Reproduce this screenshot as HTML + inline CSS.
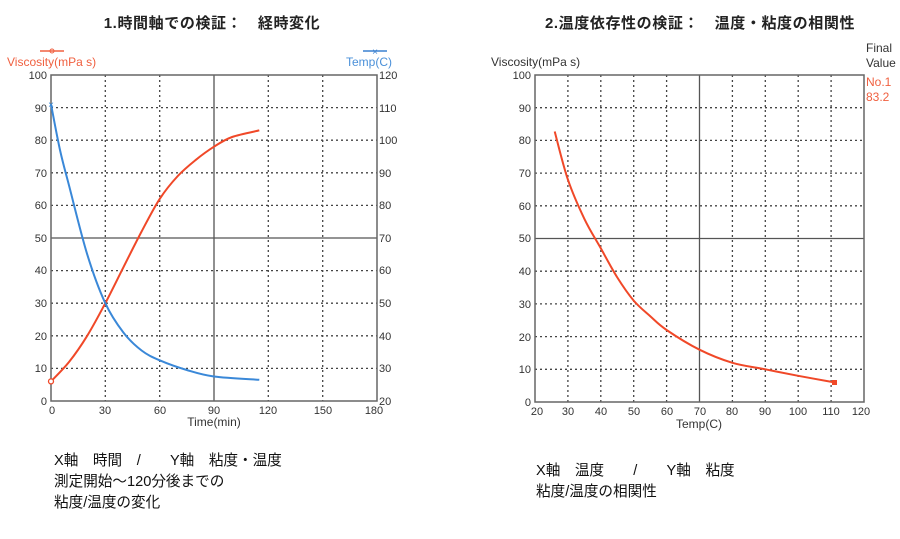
<!DOCTYPE html>
<html><head><meta charset="utf-8"><style>
body{margin:0;background:#fff;width:900px;height:534px;overflow:hidden}
svg text{font-family:"Liberation Sans","Noto Sans CJK JP",sans-serif}
</style></head><body>
<svg id="s" width="900" height="534" xmlns="http://www.w3.org/2000/svg">
<g font-size="15" font-weight="bold" fill="#222" text-anchor="middle" letter-spacing="0.6">
<text x="212" y="28">1.時間軸での検証：　経時変化</text>
<text x="700" y="28">2.温度依存性の検証：　温度・粘度の相関性</text>
</g>
<g stroke="#444" stroke-width="1.3" stroke-dasharray="2,3" fill="none">
<line x1="105.3" y1="75" x2="105.3" y2="401"/><line x1="159.7" y1="75" x2="159.7" y2="401"/>
<line x1="268.3" y1="75" x2="268.3" y2="401"/><line x1="322.7" y1="75" x2="322.7" y2="401"/>
<line x1="51" y1="107.6" x2="377" y2="107.6"/><line x1="51" y1="140.2" x2="377" y2="140.2"/>
<line x1="51" y1="172.8" x2="377" y2="172.8"/><line x1="51" y1="205.4" x2="377" y2="205.4"/>
<line x1="51" y1="270.6" x2="377" y2="270.6"/><line x1="51" y1="303.2" x2="377" y2="303.2"/>
<line x1="51" y1="335.8" x2="377" y2="335.8"/><line x1="51" y1="368.4" x2="377" y2="368.4"/>
</g>
<g stroke="#555" stroke-width="1.3" fill="none">
<line x1="214" y1="75" x2="214" y2="401"/><line x1="51" y1="238" x2="377" y2="238"/>
<rect x="51" y="75" width="326" height="326" stroke="#666" stroke-width="1.5"/>
</g>
<g font-size="11" fill="#333" text-anchor="end">
<text x="47" y="79">100</text><text x="47" y="112">90</text><text x="47" y="144">80</text><text x="47" y="177">70</text><text x="47" y="209">60</text><text x="47" y="242">50</text><text x="47" y="274">40</text><text x="47" y="307">30</text><text x="47" y="340">20</text><text x="47" y="372">10</text><text x="47" y="405">0</text>
</g>
<g font-size="11" fill="#333">
<text x="379" y="79">120</text><text x="379" y="112">110</text><text x="379" y="144">100</text><text x="379" y="177">90</text><text x="379" y="209">80</text><text x="379" y="242">70</text><text x="379" y="274">60</text><text x="379" y="307">50</text><text x="379" y="340">40</text><text x="379" y="372">30</text><text x="379" y="405">20</text>
</g>
<g font-size="11" fill="#333" text-anchor="middle">
<text x="52" y="414">0</text><text x="105" y="414">30</text><text x="160" y="414">60</text><text x="214" y="414">90</text><text x="268" y="414">120</text><text x="323" y="414">150</text><text x="374" y="414">180</text>
<text x="214" y="426" font-size="12">Time(min)</text>
</g>
<text x="7" y="66" font-size="12" fill="#f06040">Viscosity(mPa s)</text>
<line x1="40" y1="51" x2="64" y2="51" stroke="#f06040" stroke-width="1.5"/><circle cx="52" cy="51" r="2" fill="none" stroke="#f06040"/>
<text x="392" y="66" font-size="12" fill="#4a90d9" text-anchor="end">Temp(C)</text>
<line x1="363" y1="51" x2="387" y2="51" stroke="#3a80d0" stroke-width="1.5"/><text x="375" y="55" font-size="10" fill="#3a80d0" text-anchor="middle">×</text>
<polyline class="sm" fill="none" stroke="#f04828" stroke-width="2" points="51,381.4 69.1,361.9 87.2,335.8 105.3,303.2 123.4,267.3 141.6,231.5 159.7,198.9 177.8,176 195.9,159.8 214,146.7 232.1,137 259.3,130.4"/>
<circle cx="51" cy="381.4" r="2.5" fill="#fff" stroke="#f04828" stroke-width="1.3"/>
<polyline class="sm" fill="none" stroke="#3a88d8" stroke-width="2" points="51,104.3 60,150 69.1,185.8 87.2,254.3 105.3,303.2 123.4,332.5 141.6,350.5 159.7,360.3 186.8,370 214,376.5 259.3,379.8"/>
<text x="51" y="108" font-size="10" fill="#3a88d8" text-anchor="middle">×</text>
<g stroke="#444" stroke-width="1.3" stroke-dasharray="2,3" fill="none">
<line x1="567.9" y1="75" x2="567.9" y2="402"/><line x1="600.8" y1="75" x2="600.8" y2="402"/><line x1="633.7" y1="75" x2="633.7" y2="402"/><line x1="666.6" y1="75" x2="666.6" y2="402"/>
<line x1="732.4" y1="75" x2="732.4" y2="402"/><line x1="765.3" y1="75" x2="765.3" y2="402"/><line x1="798.2" y1="75" x2="798.2" y2="402"/><line x1="831.1" y1="75" x2="831.1" y2="402"/>
<line x1="535" y1="107.7" x2="864" y2="107.7"/><line x1="535" y1="140.4" x2="864" y2="140.4"/><line x1="535" y1="173.1" x2="864" y2="173.1"/><line x1="535" y1="205.8" x2="864" y2="205.8"/>
<line x1="535" y1="271.2" x2="864" y2="271.2"/><line x1="535" y1="303.9" x2="864" y2="303.9"/><line x1="535" y1="336.6" x2="864" y2="336.6"/><line x1="535" y1="369.3" x2="864" y2="369.3"/>
</g>
<g stroke="#555" stroke-width="1.3" fill="none">
<line x1="699.5" y1="75" x2="699.5" y2="402"/><line x1="535" y1="238.5" x2="864" y2="238.5"/>
<rect x="535" y="75" width="329" height="327" stroke="#666" stroke-width="1.5"/>
</g>
<g font-size="11" fill="#333" text-anchor="end">
<text x="531" y="79">100</text><text x="531" y="112">90</text><text x="531" y="144">80</text><text x="531" y="177">70</text><text x="531" y="210">60</text><text x="531" y="242">50</text><text x="531" y="275">40</text><text x="531" y="308">30</text><text x="531" y="341">20</text><text x="531" y="373">10</text><text x="531" y="406">0</text>
</g>
<g font-size="11" fill="#333" text-anchor="middle">
<text x="537" y="415">20</text><text x="568" y="415">30</text><text x="601" y="415">40</text><text x="634" y="415">50</text><text x="667" y="415">60</text><text x="700" y="415">70</text><text x="732" y="415">80</text><text x="765" y="415">90</text><text x="798" y="415">100</text><text x="831" y="415">110</text><text x="861" y="415">120</text>
<text x="699" y="428" font-size="12">Temp(C)</text>
</g>
<text x="491" y="66" font-size="12" fill="#333">Viscosity(mPa s)</text>
<text x="866" y="52" font-size="12" fill="#333">Final</text><text x="866" y="67" font-size="12" fill="#333">Value</text>
<text x="866" y="86" font-size="12" fill="#f06040">No.1</text><text x="866" y="101" font-size="12" fill="#f06040">83.2</text>
<polyline class="sm" fill="none" stroke="#f04828" stroke-width="2" points="554.7,131.5 567.9,179.6 584.4,218.9 600.8,248.3 617,277 633.7,300.6 650,316 666.6,330 699.5,349.7 732.4,362.8 765.3,369.3 798.2,375.8 834.4,382.4"/>
<rect x="832" y="380" width="5" height="5" fill="#f04828"/>
<g font-size="14.6" fill="#111">
<text x="54" y="465">X軸　時間　/　　Y軸　粘度・温度</text>
<text x="54" y="486">測定開始～120分後までの</text>
<text x="54" y="507">粘度/温度の変化</text>
<text x="536" y="475">X軸　温度　　/　　Y軸　粘度</text>
<text x="536" y="496">粘度/温度の相関性</text>
</g>
</svg>
<script>
document.querySelectorAll('polyline.sm').forEach(function(pl){
 var p=pl.getAttribute('points').trim().split(/\s+/).map(function(s){return s.split(',').map(Number)});
 var d='M'+p[0][0]+','+p[0][1];
 for(var i=0;i<p.length-1;i++){
  var p0=p[i-1]||p[i],p1=p[i],p2=p[i+1],p3=p[i+2]||p2;
  var c1=[p1[0]+(p2[0]-p0[0])/6,p1[1]+(p2[1]-p0[1])/6];
  var c2=[p2[0]-(p3[0]-p1[0])/6,p2[1]-(p3[1]-p1[1])/6];
  d+=' C'+c1[0]+','+c1[1]+' '+c2[0]+','+c2[1]+' '+p2[0]+','+p2[1];
 }
 var path=document.createElementNS('http://www.w3.org/2000/svg','path');
 path.setAttribute('d',d);path.setAttribute('fill','none');
 path.setAttribute('stroke',pl.getAttribute('stroke'));path.setAttribute('stroke-width','2');
 pl.parentNode.replaceChild(path,pl);
});
</script>
</body></html>
